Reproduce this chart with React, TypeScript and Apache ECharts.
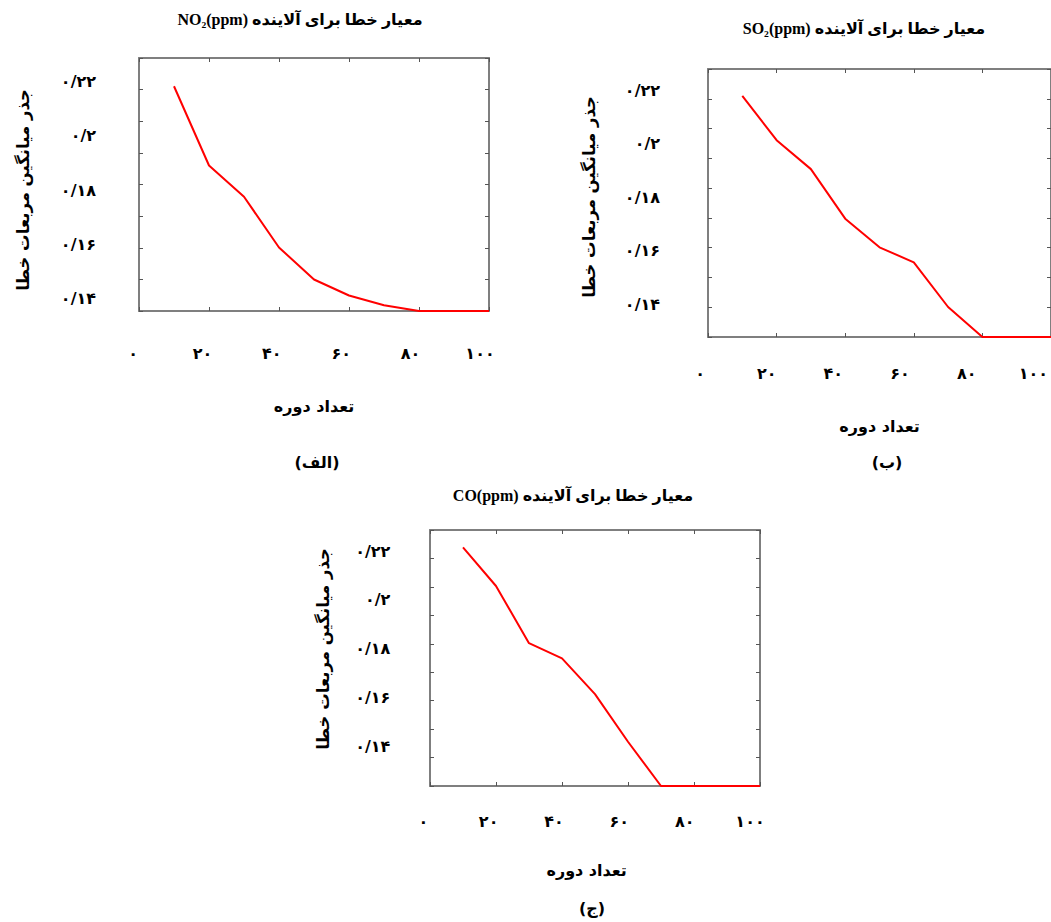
import React, { useEffect, useRef } from "react";
import * as echarts from "echarts";

// ---- data ----
const epochs = [10, 20, 30, 40, 50, 60, 70, 80, 90, 100];
const no2Rmse = [0.2182, 0.189, 0.1775, 0.1588, 0.147, 0.1411, 0.1375, 0.1354, 0.1354, 0.1354];
const so2Rmse = [0.2179, 0.2013, 0.1905, 0.172, 0.1613, 0.1557, 0.139, 0.1278, 0.1278, 0.1278];
const coRmse = [0.2215, 0.2057, 0.1823, 0.1761, 0.1615, 0.142, 0.1239, 0.1239, 0.1239, 0.1239];

const xTickLabels = ["۰", "۲۰", "۴۰", "۶۰", "۸۰", "۱۰۰"];
const yTickLabels = ["۰/۱۴", "۰/۱۶", "۰/۱۸", "۰/۲", "۰/۲۲"];

const chartTitles = [
  "NO₂(ppm) معیار خطا برای آلاینده",
  "SO₂(ppm) معیار خطا برای آلاینده",
  "CO(ppm) معیار خطا برای آلاینده",
];
const panelTags = ["(الف)", "(ب)", "(ج)"];
const xAxisTitle = "تعداد دوره";
const yAxisTitle = "جذر میانگین مربعات خطا";

// ---- layout (positions / styles) ----
const layouts = [
  {
    box: { left: 139, top: 58, width: 350, height: 253 },
    yDiv: 8,
    range: [0.1354, 0.2286],
    lab: { left: 133, top: 81.7, width: 347, height: 216.6 },
    xLabMargin: 55,
    yLabMargin: 37,
    yNameGap: 101,
    xNameOnLabelAxis: false,
    xNameGap: 87,
    titlePos: [300, 19],
    tagPos: [317, 462],
  },
  {
    box: { left: 708, top: 69, width: 348, height: 268 },
    yDiv: 9,
    range: [0.1278, 0.2279],
    lab: { left: 700, top: 90, width: 338, height: 214 },
    xLabMargin: 69,
    yLabMargin: 40,
    yNameGap: 102,
    xNameOnLabelAxis: false,
    xNameGap: 81,
    titlePos: [864, 28],
    tagPos: [887, 462],
  },
  {
    box: { left: 430, top: 530, width: 330, height: 256 },
    yDiv: 9,
    range: [0.1239, 0.2286],
    lab: { left: 423.3, top: 551, width: 326.7, height: 195.7 },
    xLabMargin: 75,
    yLabMargin: 33,
    yNameGap: 91,
    xNameOnLabelAxis: true,
    xNameGap: 116,
    titlePos: [573, 495],
    tagPos: [592, 908],
  },
];

const seriesData = [no2Rmse, so2Rmse, coRmse];

const FONT = '"Liberation Serif", "DejaVu Sans", serif';
const AR_FONT = '"DejaVu Sans", sans-serif';
const BOX_COLOR = "#7f7f7f";
const TICK_COLOR = "#555555";

function buildOption() {
  const grid: any[] = [];
  const xAxis: any[] = [];
  const yAxis: any[] = [];
  const series: any[] = [];
  const graphic: any[] = [];

  const tickAxisBase = {
    type: "value",
    axisLine: { show: true, onZero: false, lineStyle: { color: BOX_COLOR, width: 2 } },
    axisTick: { show: true, inside: true, length: 4, lineStyle: { color: TICK_COLOR, width: 1 } },
    axisLabel: { show: false },
    splitLine: { show: false },
  };
  const labelStyle = {
    fontFamily: AR_FONT,
    fontWeight: "bold",
    fontSize: 16,
    color: "#000",
  };

  layouts.forEach((L, p) => {
    const boxGrid = grid.length;
    grid.push({ ...L.box, show: false, containLabel: false });
    const labGrid = grid.length;
    grid.push({ ...L.lab, show: false, containLabel: false });

    const xName = {
      name: xAxisTitle,
      nameLocation: "middle",
      nameGap: L.xNameGap,
      nameTextStyle: { ...labelStyle, fontSize: 16 },
    };

    // x axes of the box
    const xBottom = xAxis.length;
    xAxis.push({
      ...tickAxisBase,
      gridIndex: boxGrid,
      position: "bottom",
      min: 0,
      max: 100,
      interval: 20,
      ...(L.xNameOnLabelAxis ? {} : xName),
    });
    xAxis.push({
      ...tickAxisBase,
      gridIndex: boxGrid,
      position: "top",
      min: 0,
      max: 100,
      interval: 20,
    });
    // x label axis
    xAxis.push({
      type: "value",
      gridIndex: labGrid,
      position: "bottom",
      min: 0,
      max: 100,
      interval: 20,
      axisLine: { show: false, onZero: false },
      axisTick: { show: false },
      splitLine: { show: false },
      axisLabel: {
        ...labelStyle,
        margin: L.xLabMargin,
        verticalAlign: "middle",
        formatter: (v: number) => xTickLabels[Math.round(v / 20)] ?? "",
      },
      ...(L.xNameOnLabelAxis ? xName : {}),
    });

    // y tick axes of the box
    yAxis.push({
      ...tickAxisBase,
      gridIndex: boxGrid,
      position: "left",
      min: 0,
      max: L.yDiv,
      interval: 1,
    });
    yAxis.push({
      ...tickAxisBase,
      gridIndex: boxGrid,
      position: "right",
      min: 0,
      max: L.yDiv,
      interval: 1,
    });
    // hidden data axis
    const yData = yAxis.length;
    yAxis.push({
      type: "value",
      gridIndex: boxGrid,
      position: "left",
      show: false,
      min: L.range[0],
      max: L.range[1],
      axisLine: { onZero: false },
    });
    // y label axis
    yAxis.push({
      type: "value",
      gridIndex: labGrid,
      position: "left",
      min: 0.14,
      max: 0.22,
      interval: 0.02,
      axisLine: { show: false, onZero: false },
      axisTick: { show: false },
      splitLine: { show: false },
      axisLabel: {
        ...labelStyle,
        margin: L.yLabMargin,
        formatter: (v: number) => yTickLabels[Math.round((v - 0.14) / 0.02)] ?? "",
      },
      name: yAxisTitle,
      nameLocation: "middle",
      nameRotate: 90,
      nameGap: L.yNameGap,
      nameTextStyle: { ...labelStyle, fontSize: 16.5 },
    });

    series.push({
      type: "line",
      name: chartTitles[p],
      xAxisIndex: xBottom,
      yAxisIndex: yData,
      data: epochs.map((e, i) => [e, seriesData[p][i]]),
      showSymbol: false,
      symbol: "none",
      clip: false,
      lineStyle: { color: "#ff0000", width: 2 },
      itemStyle: { color: "#ff0000" },
    });

    graphic.push({
      type: "text",
      x: L.titlePos[0],
      y: L.titlePos[1],
      style: {
        text: chartTitles[p],
        fontFamily: FONT,
        fontWeight: "bold",
        fontSize: 16,
        fill: "#000",
        align: "center",
        verticalAlign: "middle",
        textAlign: "center",
        textVerticalAlign: "middle",
      },
    });
    graphic.push({
      type: "text",
      x: L.tagPos[0],
      y: L.tagPos[1],
      style: {
        text: panelTags[p],
        fontFamily: AR_FONT,
        fontWeight: "bold",
        fontSize: 16,
        fill: "#000",
        align: "center",
        verticalAlign: "middle",
        textAlign: "center",
        textVerticalAlign: "middle",
      },
    });
  });

  return {
    animation: false,
    backgroundColor: "#ffffff",
    grid,
    xAxis,
    yAxis,
    series,
    graphic,
  };
}

export default function App() {
  const ref = useRef<HTMLDivElement>(null);
  useEffect(() => {
    if (!ref.current) return;
    const chart = echarts.init(ref.current, undefined, { renderer: "svg" });
    chart.setOption(buildOption() as any);
    return () => chart.dispose();
  }, []);
  return (
    <div
      ref={ref}
      style={{ position: "absolute", left: 0, top: 0, width: 1051, height: 922, background: "#fff" }}
    />
  );
}
